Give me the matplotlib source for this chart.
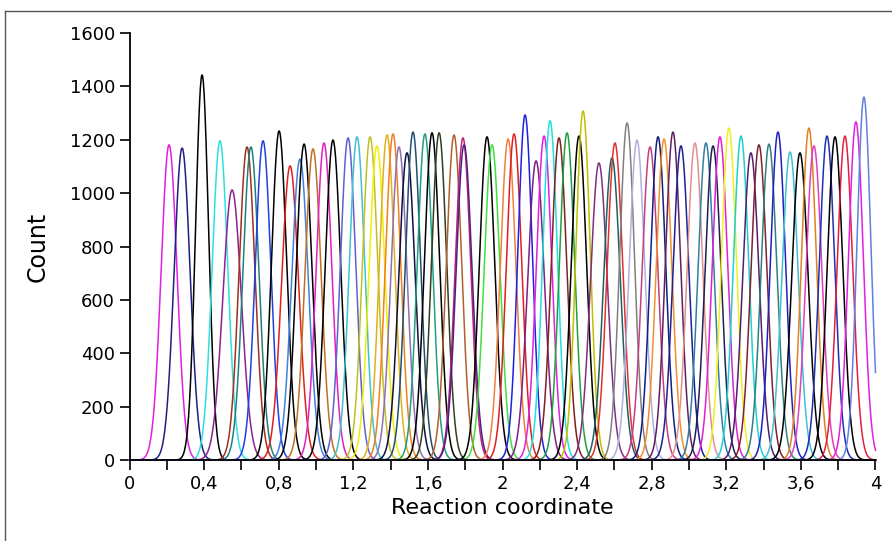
import numpy as np
import matplotlib
matplotlib.use("Agg")
import matplotlib.pyplot as plt
from matplotlib.lines import Line2D

# umbrella windows: centre, peak count, colour
centers = [0.212, 0.282, 0.389, 0.485, 0.550, 0.630, 0.651, 0.716, 0.802, 0.861,
           0.914, 0.936, 0.984, 1.043, 1.091, 1.172, 1.220, 1.290, 1.327, 1.381,
           1.413, 1.445, 1.488, 1.520, 1.584, 1.622, 1.660, 1.740, 1.788, 1.794,
           1.917, 1.944, 2.030, 2.062, 2.121, 2.180, 2.223, 2.255, 2.303, 2.346,
           2.410, 2.432, 2.517, 2.587, 2.603, 2.668, 2.721, 2.791, 2.834, 2.866,
           2.914, 2.957, 3.032, 3.091, 3.129, 3.166, 3.214, 3.279, 3.332, 3.375,
           3.429, 3.477, 3.542, 3.595, 3.643, 3.670, 3.740, 3.783, 3.836, 3.895,
           3.938]
heights = [1181, 1169, 1443, 1196, 1012, 1173, 1173, 1196, 1233, 1102,
           1128, 1184, 1166, 1188, 1199, 1207, 1211, 1211, 1177, 1218,
           1222, 1173, 1151, 1229, 1222, 1226, 1226, 1218, 1207, 1181,
           1211, 1181, 1203, 1222, 1293, 1121, 1214, 1271, 1207, 1226,
           1214, 1308, 1113, 1132, 1188, 1263, 1199, 1173, 1211, 1203,
           1229, 1177, 1188, 1188, 1177, 1211, 1244, 1214, 1151, 1181,
           1184, 1229, 1154, 1151, 1244, 1177, 1214, 1211, 1214, 1267,
           1360]
colors = ['#e020e0', '#202080', '#000000', '#30e0e0', '#902090', '#a03020', '#208080', '#2040e0', '#000000', '#e02020',
          '#4080e0', '#000000', '#c07020', '#e020c0', '#000000', '#6060d0', '#40c0d0', '#c0c020', '#f0f000', '#e0b020',
          '#f08020', '#9070b0', '#101040', '#205070', '#20a080', '#000000', '#304020', '#b06030', '#c02080', '#502080',
          '#000000', '#40e040', '#f08040', '#e02020', '#2020e0', '#802080', '#e020e0', '#20e0e0', '#802020', '#20a040',
          '#000000', '#c0c000', '#803080', '#206060', '#e03030', '#808080', '#b0b0e0', '#c04080', '#102080', '#f09030',
          '#602060', '#202090', '#e09090', '#3080a0', '#202050', '#e020d0', '#f0f020', '#20d0d0', '#502070', '#802030',
          '#308080', '#2020c0', '#40c0d0', '#000000', '#e08020', '#e040c0', '#2030b0', '#000000', '#e02040', '#e020e0',
          '#6080e0']
area = 50.0  # height * sigma, roughly equal samples per window

xtick_vals = [0, 0.4, 0.8, 1.2, 1.6, 2.0, 2.4, 2.8, 3.2, 3.6, 4.0]
xtick_labels = ['0', '0,4', '0,8', '1,2', '1,6', '2', '2,4', '2,8', '3,2', '3,6', '4']

fig = plt.figure(figsize=(8.92, 5.41), dpi=100)
ax = fig.add_axes([0.1452, 0.1497, 0.8363, 0.7893])

x = np.linspace(0, 4, 2000)
for c, h, col in zip(centers, heights, colors):
    s = area / h
    ax.plot(x, h * np.exp(-0.5 * ((x - c) / s) ** 2), color=col, lw=1.1, clip_on=False)

ax.set_xlim(0, 4)
ax.set_ylim(0, 1600)
ax.set_xticks(xtick_vals)
ax.set_xticklabels(xtick_labels)
ax.set_xticks(np.arange(0.2, 4, 0.4), minor=True)
ax.set_yticks(range(0, 1601, 200))
ax.spines['top'].set_visible(False)
ax.spines['right'].set_visible(False)
for sp in ('left', 'bottom'):
    ax.spines[sp].set_linewidth(1.3)
ax.tick_params(which='both', direction='out', length=7, width=1.2, labelsize=13)
ax.set_xlabel('Reaction coordinate', fontsize=16)
ax.set_ylabel('Count', fontsize=17, labelpad=14)

# thin frame of the screenshot
fig.add_artist(Line2D([0.0056, 0.0056], [0, 0.98], color='#555555', lw=1))
fig.add_artist(Line2D([0.0056, 1], [0.98, 0.98], color='#555555', lw=1))

fig.savefig('out.png', dpi=100)
